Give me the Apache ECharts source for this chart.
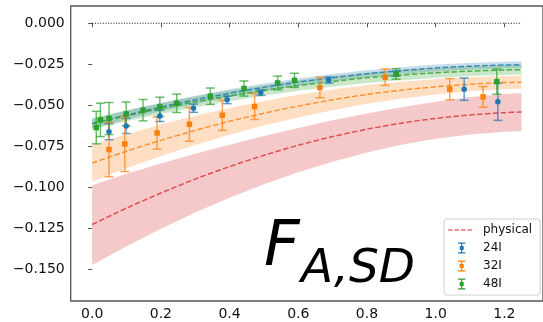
<!DOCTYPE html>
<html><head><meta charset="utf-8">
<script src="https://cdn.jsdelivr.net/npm/echarts@6/dist/echarts.min.js"></script>
<style>html,body{margin:0;padding:0;background:#fff}#c{width:543px;height:322px}</style>
</head><body><div id="c"></div>
<script>
// ---- tick labels ----
const xTicks = [0, 0.2, 0.4, 0.6, 0.8, 1.0, 1.2];
const yTicks = [0, -0.025, -0.05, -0.075, -0.1, -0.125, -0.15];

// ---- fitted curves and bands ----
const bandX = [0, 0.1, 0.2, 0.3, 0.4, 0.5, 0.6, 0.7, 0.8, 0.9, 1.0, 1.1, 1.2, 1.25];
const physMid = [-0.1227,-0.1127,-0.1035,-0.0950,-0.0874,-0.0805,-0.0744,-0.0691,-0.0646,-0.0609,-0.0580,-0.0559,-0.0545,-0.0541];
const physHi  = [-0.0987,-0.0918,-0.0855,-0.0796,-0.0740,-0.0688,-0.0638,-0.0592,-0.0550,-0.0512,-0.0478,-0.0450,-0.0431,-0.0426];
const physLo  = [-0.1474,-0.1359,-0.1252,-0.1153,-0.1063,-0.0981,-0.0909,-0.0844,-0.0788,-0.0741,-0.0704,-0.0678,-0.0662,-0.0657];
const mid24 = [-0.0612,-0.0560,-0.0511,-0.0467,-0.0427,-0.0391,-0.0359,-0.0332,-0.0308,-0.0289,-0.0273,-0.0262,-0.0255,-0.0253];
const hi24  = [-0.0584,-0.0533,-0.0485,-0.0442,-0.0403,-0.0368,-0.0337,-0.0310,-0.0287,-0.0268,-0.0252,-0.0242,-0.0235,-0.0233];
const lo24  = [-0.0640,-0.0587,-0.0537,-0.0492,-0.0451,-0.0414,-0.0381,-0.0354,-0.0329,-0.0310,-0.0294,-0.0282,-0.0275,-0.0273];
const mid32 = [-0.0852,-0.0780,-0.0714,-0.0653,-0.0598,-0.0549,-0.0505,-0.0467,-0.0434,-0.0408,-0.0387,-0.0372,-0.0362,-0.0359];
const hi32  = [-0.0740,-0.0676,-0.0617,-0.0564,-0.0516,-0.0474,-0.0436,-0.0404,-0.0377,-0.0356,-0.0340,-0.0329,-0.0321,-0.0318];
const lo32  = [-0.0964,-0.0884,-0.0811,-0.0742,-0.0680,-0.0624,-0.0574,-0.0530,-0.0491,-0.0460,-0.0434,-0.0415,-0.0403,-0.0400];
const mid48 = [-0.0612,-0.0564,-0.0520,-0.0479,-0.0443,-0.0410,-0.0380,-0.0355,-0.0333,-0.0316,-0.0302,-0.0292,-0.0285,-0.0283];
const hi48  = [-0.0578,-0.0530,-0.0487,-0.0446,-0.0410,-0.0378,-0.0348,-0.0323,-0.0302,-0.0285,-0.0271,-0.0262,-0.0255,-0.0253];
const lo48  = [-0.0646,-0.0598,-0.0553,-0.0512,-0.0476,-0.0442,-0.0412,-0.0387,-0.0364,-0.0347,-0.0333,-0.0322,-0.0315,-0.0313];

// ---- zero reference line ----
const zeroX = [0, 1.25];
const zeroY = [0, 0];

// ---- lattice data points ----
const x24 = [0.049,0.099,0.197,0.295,0.393,0.491,0.689,0.885,1.083,1.181];
const y24 = [-0.0661,-0.0626,-0.0565,-0.0518,-0.0467,-0.0423,-0.0346,-0.0307,-0.0402,-0.0478];
const e24 = [0.0049,0.0046,0.0034,0.0025,0.0023,0.0017,0.0019,0.0015,0.0068,0.0114];
const x32 = [0.049,0.095,0.189,0.283,0.379,0.473,0.663,0.853,1.041,1.138];
const y32 = [-0.0770,-0.0736,-0.0669,-0.0616,-0.0561,-0.0508,-0.0392,-0.0329,-0.0402,-0.0449];
const e32 = [0.0166,0.0168,0.0098,0.0103,0.0092,0.0079,0.0062,0.0050,0.0065,0.0063];
const x48 = [0.012,0.024,0.049,0.099,0.148,0.197,0.246,0.344,0.442,0.540,0.589,0.885,1.178];
const y48 = [-0.0636,-0.0589,-0.0581,-0.0553,-0.0530,-0.0510,-0.0488,-0.0445,-0.0398,-0.0364,-0.0348,-0.0309,-0.0356];
const e48 = [0.0099,0.0102,0.0098,0.0073,0.0065,0.0059,0.0056,0.0050,0.0046,0.0042,0.0043,0.0032,0.0077];

const C_BLUE = '#1f77b4', C_ORANGE = '#ff7f0e', C_GREEN = '#2ca02c', C_RED = '#d62728';
const FONT = 'DejaVu Sans';

function bandSeries(lo, hi, color, opacity) {
  const data = bandX.map((x, i) => [x, lo[i], hi[i]]);
  return {
    type: 'custom', silent: true, z: 1, data, encode: { x: 0, y: [1, 2] },
    renderItem: function (params, api) {
      if (params.dataIndex !== 0) return null;
      const pts = [];
      for (let i = 0; i < data.length; i++) pts.push(api.coord([data[i][0], data[i][2]]));
      for (let i = data.length - 1; i >= 0; i--) pts.push(api.coord([data[i][0], data[i][1]]));
      return { type: 'polygon', shape: { points: pts }, style: { fill: color, opacity: opacity } };
    }
  };
}
function fitLine(mid, color, opacity, name) {
  return {
    type: 'line', name: name, z: 2, silent: true, symbol: 'none', smooth: 0.3,
    data: bandX.map((x, i) => [x, mid[i]]),
    itemStyle: { color: color },
    lineStyle: { color: color, width: 1.5, type: [5.5, 2.4], opacity: opacity }
  };
}
function errSeries(xs, ys, es, color) {
  const data = xs.map((x, i) => [x, ys[i] - es[i], ys[i] + es[i]]);
  return {
    type: 'custom', silent: true, z: 3, data, encode: { x: 0, y: [1, 2] },
    renderItem: function (params, api) {
      const x = api.value(0);
      const a = api.coord([x, api.value(1)]);
      const b = api.coord([x, api.value(2)]);
      const w = 4.5;
      const st = { stroke: color, lineWidth: 1.5, opacity: 0.7 };
      return { type: 'group', children: [
        { type: 'line', shape: { x1: a[0], y1: a[1], x2: b[0], y2: b[1] }, style: st },
        { type: 'line', shape: { x1: a[0] - w, y1: a[1], x2: a[0] + w, y2: a[1] }, style: st },
        { type: 'line', shape: { x1: b[0] - w, y1: b[1], x2: b[0] + w, y2: b[1] }, style: st }
      ] };
    }
  };
}
function pts(name, xs, ys, color, symbol) {
  return {
    type: 'scatter', name: name, z: 4, symbol: symbol, symbolSize: 5.5,
    data: xs.map((x, i) => [x, ys[i]]),
    itemStyle: { color: color, opacity: 1 }
  };
}

const anchors = 'M0,0h0.05v0.05h-0.05Z M29.95,11.95h0.05v0.05h-0.05Z ';
const dashIcon = 'path://' + anchors +
  'M0,5.25h4.6v1.5h-4.6Z M6.5,5.25h4.6v1.5h-4.6Z M13,5.25h4.6v1.5h-4.6Z M19.5,5.25h4.6v1.5h-4.6Z';
const ebIcon = 'path://' + anchors +
  'M10,0.5h7.4v1.2h-7.4Z M10,10.3h7.4v1.2h-7.4Z M13.1,1.7h1.2v8.6h-1.2Z M11.7,4h4v4h-4Z';

const option = {
  animation: false,
  grid: { left: 70.7, top: 6, right: -3, bottom: 21, show: true, borderColor: '#555', borderWidth: 1.3, backgroundColor: 'transparent' },
  xAxis: {
    type: 'value', min: -0.0625, max: 1.3125,
    axisLine: { show: false },
    axisTick: { show: true, length: 4, customValues: xTicks, lineStyle: { color: '#555', width: 1 } },
    axisLabel: { customValues: xTicks, formatter: v => v.toFixed(1), color: '#111', fontSize: 14, fontFamily: FONT, margin: 6 },
    splitLine: { show: false }
  },
  yAxis: {
    type: 'value', min: -0.1693, max: 0.0105,
    axisLine: { show: false },
    axisTick: { show: true, length: 4, customValues: yTicks, lineStyle: { color: '#555', width: 1 } },
    axisLabel: { customValues: yTicks, formatter: v => v.toFixed(3).replace('-', '\u2212'), color: '#111', fontSize: 14, fontFamily: FONT, margin: 6 },
    splitLine: { show: false }
  },
  legend: {
    orient: 'vertical', left: 444, top: 219, padding: [5, 8, 5, 4],
    itemWidth: 30, itemHeight: 12, itemGap: 6,
    borderColor: '#d0d0d0', borderWidth: 1, borderRadius: 3, backgroundColor: 'rgba(255,255,255,0.85)',
    textStyle: { fontSize: 12, fontFamily: FONT, color: '#111' },
    selectedMode: false,
    data: [
      { name: 'physical', icon: dashIcon, itemStyle: { color: 'rgba(214,39,40,0.65)' } },
      { name: '24I', icon: ebIcon, itemStyle: { color: C_BLUE } },
      { name: '32I', icon: ebIcon, itemStyle: { color: C_ORANGE } },
      { name: '48I', icon: ebIcon, itemStyle: { color: C_GREEN } }
    ]
  },
  graphic: [
    { type: 'text', left: 264, top: 218, z: 10, style: { text: 'F', font: 'italic 62px "DejaVu Sans"', fill: '#000' } },
    { type: 'text', left: 301, top: 246, z: 10, style: { text: 'A,SD', font: 'italic 47px "DejaVu Sans"', fill: '#000' } }
  ],
  series: [
    bandSeries(physLo, physHi, C_RED, 0.25),
    bandSeries(lo24, hi24, C_BLUE, 0.25),
    bandSeries(lo32, hi32, C_ORANGE, 0.25),
    bandSeries(lo48, hi48, C_GREEN, 0.25),
    fitLine(physMid, C_RED, 0.75, 'physical'),
    fitLine(mid24, C_BLUE, 0.8),
    fitLine(mid32, C_ORANGE, 0.8),
    fitLine(mid48, C_GREEN, 0.8),
    {
      type: 'line', z: 2, silent: true, symbol: 'none',
      data: zeroX.map((x, i) => [x, zeroY[i]]),
      lineStyle: { color: '#000', width: 1, type: [1, 1.65] }
    },
    errSeries(x24, y24, e24, C_BLUE),
    errSeries(x32, y32, e32, C_ORANGE),
    errSeries(x48, y48, e48, C_GREEN),
    pts('24I', x24, y24, C_BLUE, 'circle'),
    pts('32I', x32, y32, C_ORANGE, 'rect'),
    pts('48I', x48, y48, C_GREEN, 'rect')
  ]
};
const chart = echarts.init(document.getElementById('c'));
chart.setOption(option);
</script>
</body></html>
